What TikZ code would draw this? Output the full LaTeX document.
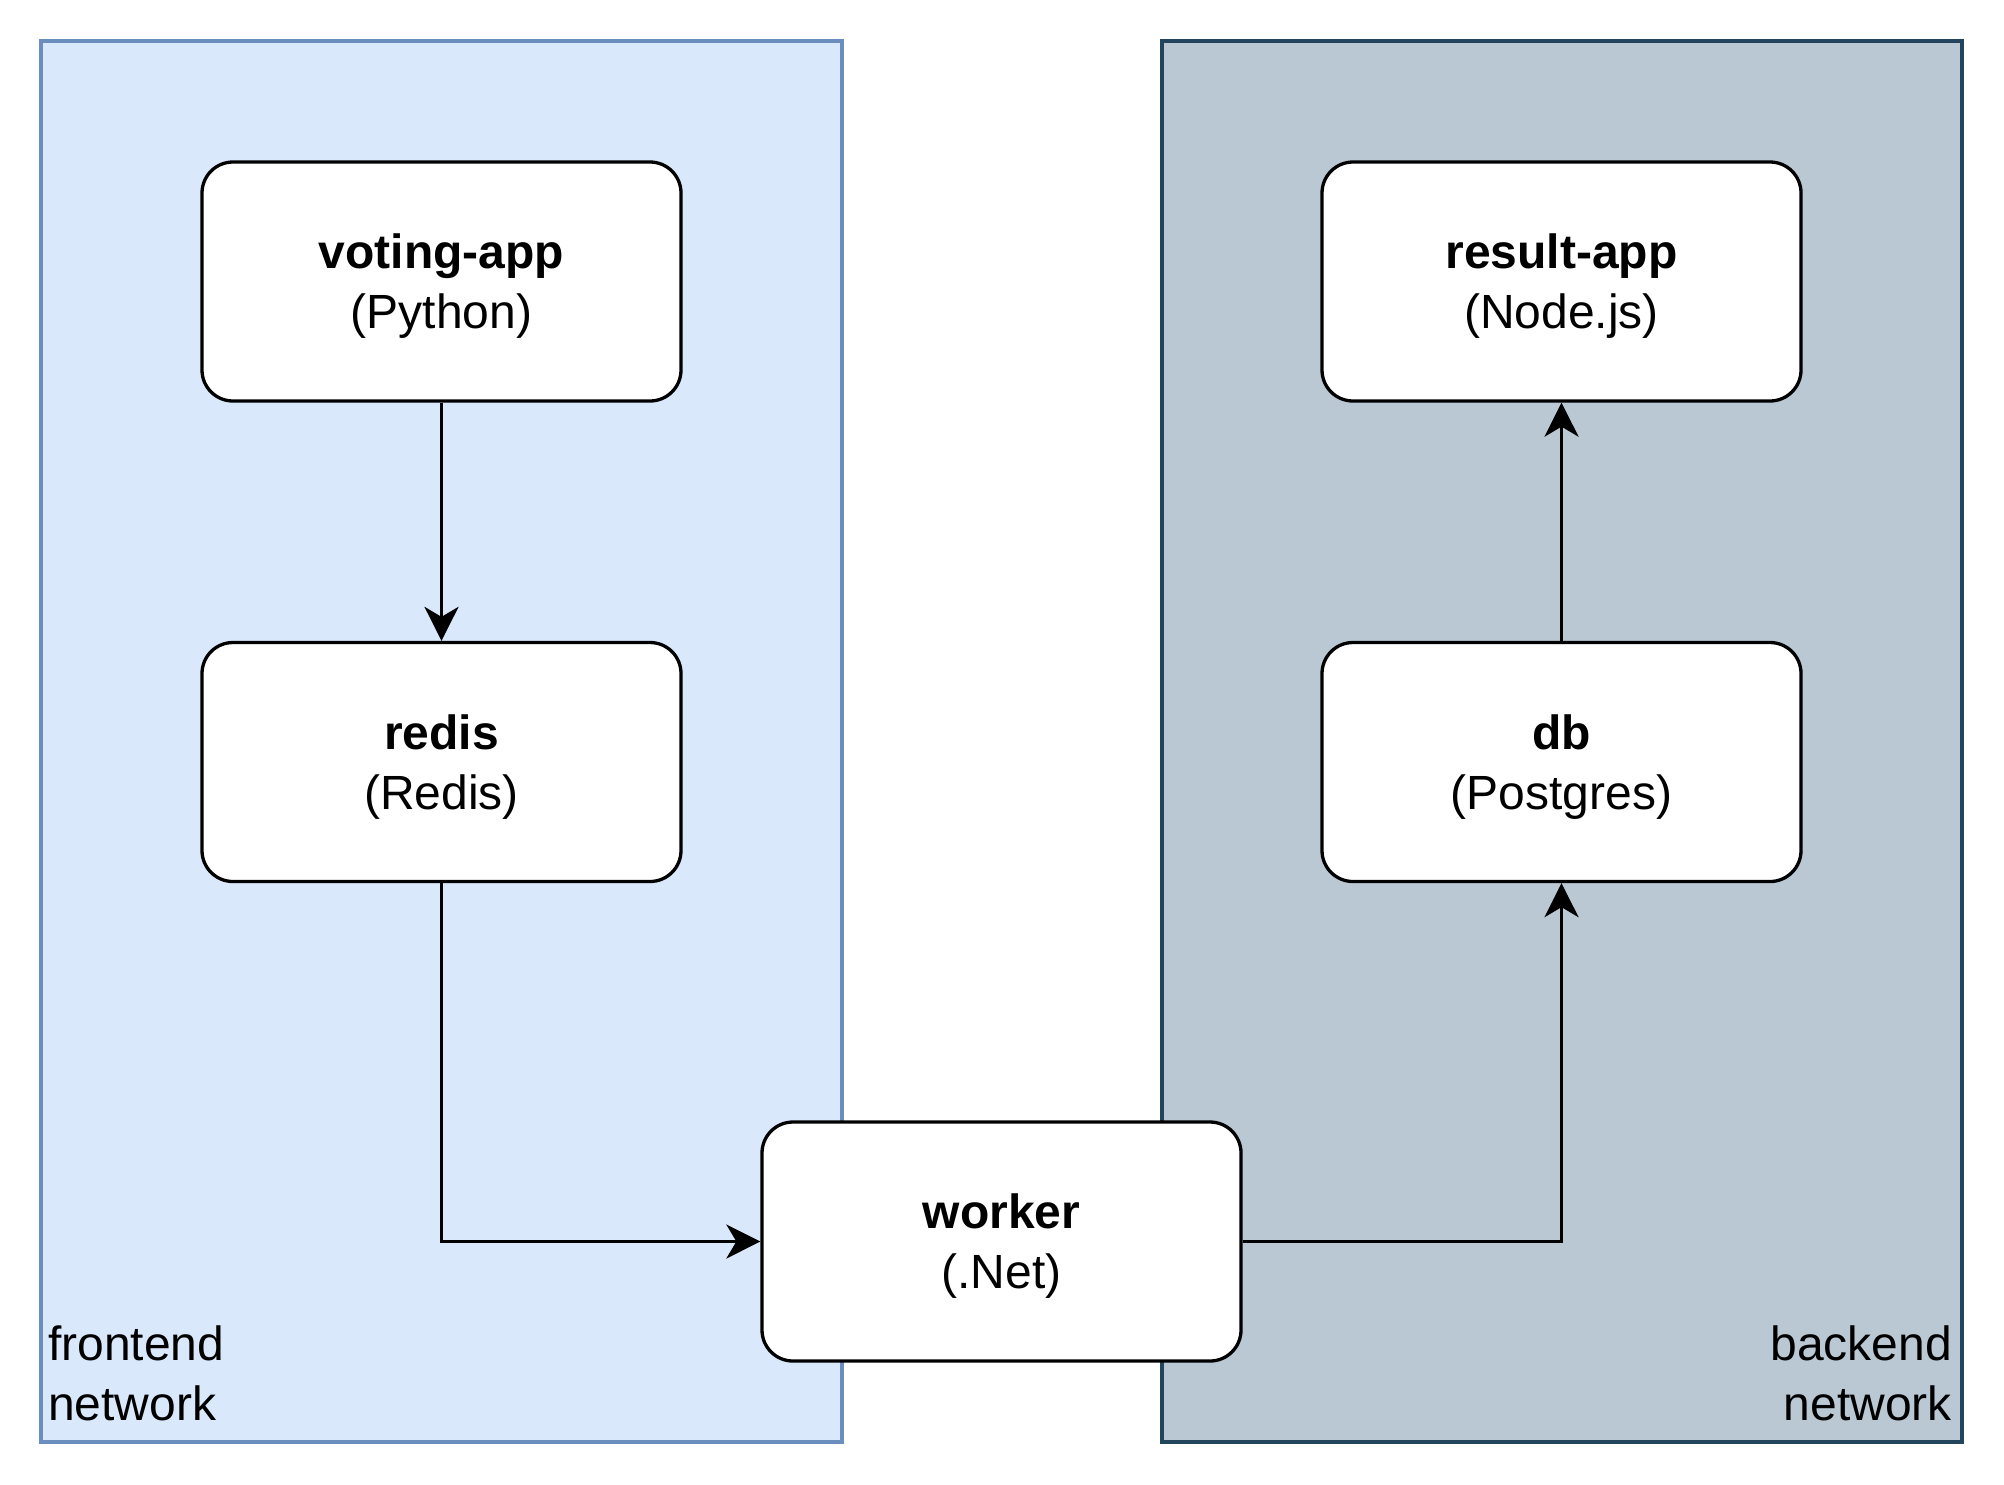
\documentclass[tikz,border=0pt]{standalone}
\usepackage{fontspec}
\setmainfont{Liberation Sans}
\usetikzlibrary{arrows.meta}
\definecolor{feFill}{HTML}{DAE8FC}
\definecolor{feLine}{HTML}{6C8EBF}
\definecolor{beFill}{HTML}{BAC8D3}
\definecolor{beLine}{HTML}{23445D}
\tikzset{
  netarea/.style={line width=4pt},
  svcbox/.style={draw=black, fill=white, line width=3.3pt, rounded corners=31pt,
    minimum width=479pt, minimum height=239pt, align=center, inner sep=0pt,
    text depth=0pt, font=\fontsize{48}{60}\selectfont},
  netlabel/.style={inner sep=0pt, font=\fontsize{48}{60}\selectfont},
  conn/.style={line width=3.3pt, -{Stealth[length=34pt,width=34pt,inset=10pt]}}
}
\begin{document}
\begin{tikzpicture}[x=1pt,y=-1pt]
\useasboundingbox (0,0) rectangle (2004,1484);
\filldraw[netarea, fill=feFill, draw=feLine] (41,41) rectangle (842,1442);
\filldraw[netarea, fill=beFill, draw=beLine] (1162,41) rectangle (1962,1442);
\node[netlabel, anchor=south west, align=left] (fel) at (48,1421) {frontend\\network};
\node[netlabel, anchor=south east, align=right] (bel) at (1952,1421) {backend\\network};
\node[svcbox] (voting) at (441.5,281.5) {\textbf{voting-app}\\(Python)};
\node[svcbox] (redis) at (441.5,762) {\textbf{redis}\\(Redis)};
\node[svcbox] (worker) at (1001.5,1241.5) {\textbf{worker}\\(.Net)};
\node[svcbox] (result) at (1561.5,281.5) {\textbf{result-app}\\(Node.js)};
\node[svcbox] (db) at (1561.5,762) {\textbf{db}\\(Postgres)};
\draw[conn] (voting) -- (redis);
\draw[conn] (redis.south) |- (worker.west);
\draw[conn] (worker.east) -| (db.south);
\draw[conn] (db) -- (result);
\end{tikzpicture}
\end{document}
